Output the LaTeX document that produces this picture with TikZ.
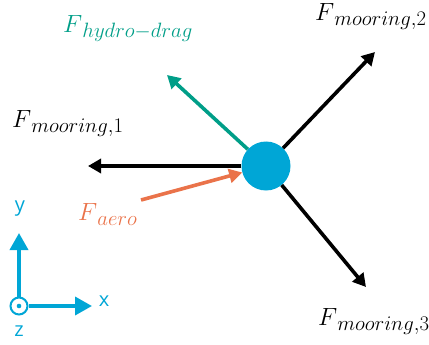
\documentclass[tikz,border=0pt]{standalone}
\usepackage{fontspec}
\newfontfamily\axfont{Open Sans}
\usetikzlibrary{arrows.meta}
\newcommand{\Fsub}[1]{$F$\raisebox{-5pt}{\fontsize{22}{24}\selectfont$#1$}}
\definecolor{cblue}{RGB}{0,166,214}
\definecolor{cteal}{RGB}{0,158,136}
\definecolor{corange}{RGB}{234,115,74}
\tikzset{
  force/.style={line width=3.6pt, -{Triangle[length=13pt,width=14pt]}},
  axis/.style={cblue, line width=3.6pt, -{Triangle[length=17pt,width=18pt]}},
  flabel/.style={font=\fontsize{24}{28}\selectfont, inner sep=0pt},
  axlabel/.style={cblue, font=\axfont\fontsize{20}{24}\selectfont, inner sep=0pt}
}
\begin{document}
\begin{tikzpicture}[x=1pt,y=-1pt]
\useasboundingbox (0,0) rectangle (429,345);
% body
\node[circle, fill=cblue, minimum size=49pt, inner sep=0pt] (c) at (266,166) {};
\coordinate (m1) at (88,166);
\coordinate (m2) at (375,52);
\coordinate (m3) at (366,287);
\coordinate (hd) at (167,75);
\coordinate (ae) at (141,200);
\draw[force] (c) -- (m1);
\draw[force] (c) -- (m2);
\draw[force] (c) -- (m3);
\draw[force, cteal] (c) -- (hd);
\draw[force, corange] (ae) -- (c);
% labels
\node[flabel, anchor=base west] (l1) at (12,128) {\Fsub{mooring{,}1}};
\node[flabel, anchor=base west] (l2) at (315,21) {\Fsub{mooring{,}2}};
\node[flabel, anchor=base west] (l3) at (318,325) {\Fsub{mooring{,}3}};
\node[flabel, anchor=base west, text=cteal] (lh) at (63,33) {\Fsub{hydro{-}drag}};
\node[flabel, anchor=base west, text=corange] (la) at (78,220) {\Fsub{aero}};
% axes
\node[circle, draw=cblue, line width=2pt, fill=white, minimum size=17pt, inner sep=0pt] (o) at (19,306) {};
\fill[cblue] (o.center) circle (2.3pt);
\coordinate (yt) at (19,233);
\coordinate (xt) at (92,306);
\draw[axis] (o) -- (yt);
\draw[axis] (o) -- (xt);
\node[axlabel] (ly) at (20,209) {y};
\node[axlabel] (lx) at (104,301) {x};
\node[axlabel] (lz) at (19,331) {z};
\end{tikzpicture}
\end{document}
